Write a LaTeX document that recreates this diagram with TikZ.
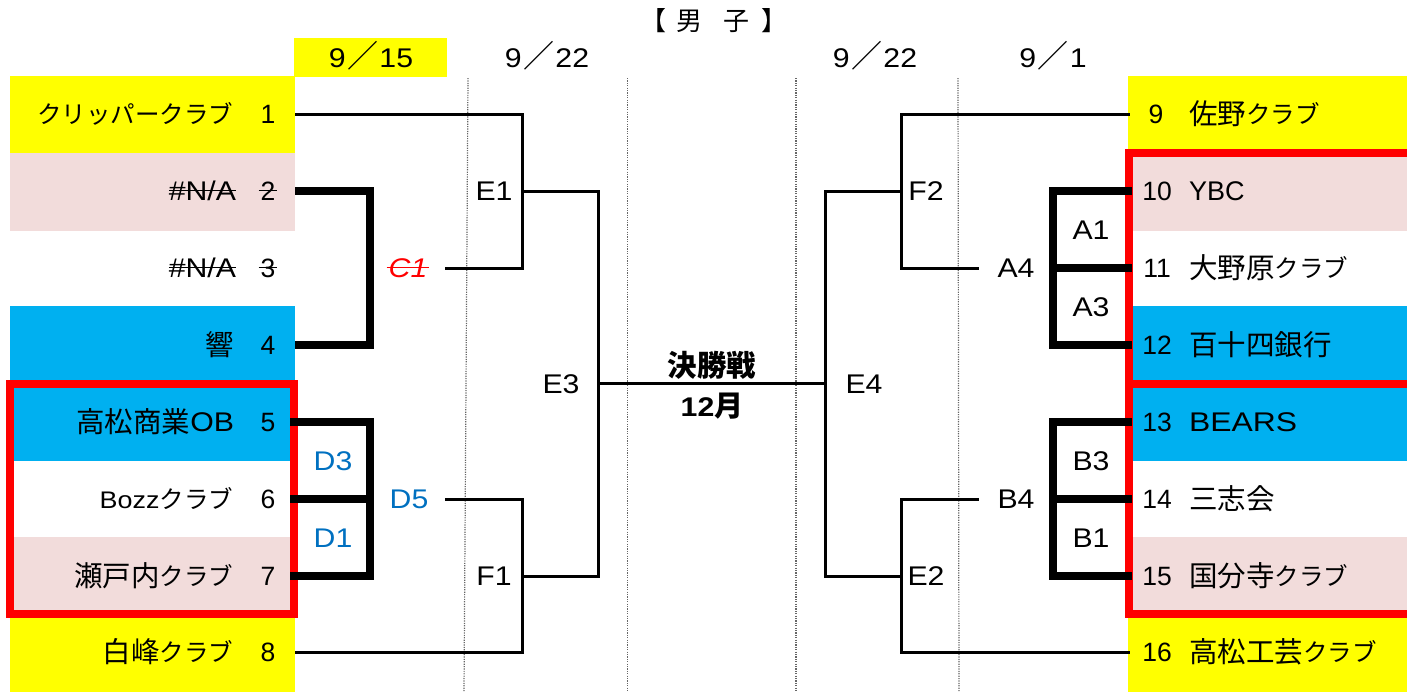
\documentclass[tikz,border=0pt]{standalone}
\usepackage{fontspec}
\setmainfont[FakeStretch=1.12]{Liberation Sans}
\newfontfamily\plainlat{Liberation Sans}
\newfontfamily\widelat[FakeStretch=1.18]{Liberation Sans}
\newfontfamily\jp{Noto Sans CJK JP}
\definecolor{bYellow}{HTML}{FFFF00}
\definecolor{bPink}{HTML}{F2DCDB}
\definecolor{bBlue}{HTML}{00B0F0}
\definecolor{dBlue}{HTML}{0070C0}
\newcommand{\kj}[1]{\raisebox{-1pt}{\fontsize{28.5}{28.5}\selectfont #1}}
\newcommand{\lat}[1]{{\rmfamily\fontsize{27}{27}\selectfont #1}}
\newcommand{\dateslash}{\hspace{.05em}{\jp\fontsize{31}{31}\selectfont ／}\hspace{.05em}}
\tikzset{
 band/.style={inner sep=0pt,outer sep=0pt,anchor=north west,text width=0pt},
 txt/.style={inner sep=0pt,outer sep=0pt,anchor=base,font=\fontsize{27}{27}\selectfont},
 lname/.style={inner sep=0pt,outer sep=0pt,anchor=base east,font=\jp\fontsize{24.5}{25}\selectfont},
 rname/.style={inner sep=0pt,outer sep=0pt,anchor=base west,font=\jp\fontsize{24.5}{25}\selectfont},
 num/.style={inner sep=0pt,outer sep=0pt,anchor=base,font=\plainlat\fontsize{26.5}{26.5}\selectfont},
 thinline/.style={line width=3pt,line cap=rect,line join=miter},
 thickline/.style={line width=8pt,line cap=butt,line join=miter},
 redbox/.style={draw=red,line width=8pt,line join=miter},
 sep/.style={draw=black!60,line width=1.2pt,dash pattern=on 1.2pt off 1.2pt},
 strike/.style={line width=1pt}
}
\newcommand{\bandbox}[5]{\node[band,fill=#5,minimum width=#3,minimum height=#4] (#1) at #2 {};}
\begin{document}
\begin{tikzpicture}[x=1pt,y=-1pt]
\useasboundingbox (0,0) rectangle (1407,694);
% bands
\bandbox{bL1}{(10,76)}{285pt}{77pt}{bYellow}
\bandbox{bL2}{(10,153)}{285pt}{78pt}{bPink}
\bandbox{bL4}{(10,306)}{285pt}{78pt}{bBlue}
\bandbox{bL5}{(10,384)}{285pt}{77pt}{bBlue}
\bandbox{bL7}{(10,537)}{285pt}{78pt}{bPink}
\bandbox{bL8}{(10,615)}{285pt}{77pt}{bYellow}
\bandbox{bR1}{(1128,76)}{279pt}{77pt}{bYellow}
\bandbox{bR2}{(1128,153)}{279pt}{78pt}{bPink}
\bandbox{bR4}{(1128,306)}{279pt}{78pt}{bBlue}
\bandbox{bR5}{(1128,384)}{279pt}{77pt}{bBlue}
\bandbox{bR7}{(1128,537)}{279pt}{78pt}{bPink}
\bandbox{bR8}{(1128,615)}{279pt}{77pt}{bYellow}
\bandbox{bDate}{(294,38)}{153pt}{39pt}{bYellow}
% column separators
\coordinate (s1a) at (468,78); \coordinate (s1b) at (464,692);
\coordinate (s2a) at (627.5,78); \coordinate (s2b) at (627.5,692);
\coordinate (s3a) at (796,78); \coordinate (s3b) at (796,692);
\coordinate (s4a) at (958,78); \coordinate (s4b) at (959,692);
\draw[sep] (s1a) -- (s1b);
\draw[sep] (s2a) -- (s2b);
\draw[sep] (s3a) -- (s3b);
\draw[sep] (s4a) -- (s4b);
% red frames
\coordinate (rL1) at (10,384); \coordinate (rL2) at (294,614);
\coordinate (rR1) at (1129,153); \coordinate (rR2) at (1407,153);
\coordinate (rR3) at (1129,614); \coordinate (rR4) at (1407,614);
\coordinate (rR5) at (1129,384); \coordinate (rR6) at (1407,384);
\draw[redbox] (rL1) rectangle (rL2);
\draw[redbox] (rR2) -- (rR1) -- (rR3) -- (rR4);
\draw[redbox] (rR5) -- (rR6);
% labels
\node[txt,font=\jp\fontsize{26}{26}\selectfont] (title) at (714,30) {【\hspace{.38em}男\hspace{.8em}子\hspace{.45em}】};
\node[txt] (d1) at (371,67) {9\dateslash 15};
\node[txt] (d2) at (547,67) {9\dateslash 22};
\node[txt] (d3) at (875,67) {9\dateslash 22};
\node[txt] (d4) at (1053,67) {9\dateslash 1};
% left team names
\node[lname] (n1) at (233,123) {クリッパークラブ};
\node[lname] (n2) at (236,200) {\lat{\#N/A}};
\node[lname] (n3) at (236,277) {\lat{\#N/A}};
\node[lname] (n4) at (234,354) {\kj{響}};
\node[lname] (n5) at (234,431) {\kj{高松商業}\lat{OB}};
\node[lname] (n6) at (233,508) {{\rmfamily\fontsize{24}{25}\selectfont Bozz}クラブ};
\node[lname] (n7) at (233,585) {\kj{瀬戸内}クラブ};
\node[lname] (n8) at (233,661) {\kj{白峰}クラブ};
\node[num] (k1) at (268,123) {1};
\node[num] (k2) at (268,200) {2};
\node[num] (k3) at (268,277) {3};
\node[num] (k4) at (268,354) {4};
\node[num] (k5) at (268,431) {5};
\node[num] (k6) at (268,508) {6};
\node[num] (k7) at (268,585) {7};
\node[num] (k8) at (268,661) {8};
\draw[strike] (n2.west |- k2.center) -- (n2.east |- k2.center);
\draw[strike] (n3.west |- k3.center) -- (n3.east |- k3.center);
\path (k2.west) ++(-2,0) coordinate (ks2a) (k2.east) ++(2,0) coordinate (ks2b);
\draw[strike] (ks2a) -- (ks2b);
\path (k3.west) ++(-2,0) coordinate (ks3a) (k3.east) ++(2,0) coordinate (ks3b);
\draw[strike] (ks3a) -- (ks3b);
% right team names
\node[num] (k9) at (1156,123) {9};
\node[num] (k10) at (1157,200) {10};
\node[num] (k11) at (1157,277) {11};
\node[num] (k12) at (1157,354) {12};
\node[num] (k13) at (1157,431) {13};
\node[num] (k14) at (1157,508) {14};
\node[num] (k15) at (1157,585) {15};
\node[num] (k16) at (1157,661) {16};
\node[rname] (n9) at (1189,123) {\kj{佐野}クラブ};
\node[rname] (n10) at (1189,200) {{\plainlat\fontsize{27}{27}\selectfont YBC}};
\node[rname] (n11) at (1189,277) {\kj{大野原}クラブ};
\node[rname] (n12) at (1189,354) {\kj{百十四銀行}};
\node[rname] (n13) at (1189,431) {{\widelat\fontsize{27}{27}\selectfont BEARS}};
\node[rname] (n14) at (1189,508) {\kj{三志会}};
\node[rname] (n15) at (1189,585) {\kj{国分寺}クラブ};
\node[rname] (n16) at (1189,661) {\kj{高松工芸}クラブ};
% match labels
\node[txt,text=red] (C1) at (408,277) {\itshape C1};
\path (C1.west) ++(-2,0) coordinate (c1a) (C1.east) ++(2,0) coordinate (c1b);
\draw[strike,red] (c1a) -- (c1b);
\node[txt,text=dBlue] (D3) at (333,470) {D3};
\node[txt,text=dBlue] (D1) at (333,547) {D1};
\node[txt,text=dBlue] (D5) at (409,508) {D5};
\node[txt] (E1) at (494,200) {E1};
\node[txt] (F1) at (494,585) {F1};
\node[txt] (E3) at (561,393) {E3};
\node[txt] (E4) at (864,393) {E4};
\node[txt] (F2) at (926,200) {F2};
\node[txt] (E2) at (926,585) {E2};
\node[txt] (A4) at (1016,277) {A4};
\node[txt] (B4) at (1016,508) {B4};
\node[txt] (A1) at (1091,239) {A1};
\node[txt] (A3) at (1091,316) {A3};
\node[txt] (B3) at (1091,470) {B3};
\node[txt] (B1) at (1091,547) {B1};
\node[txt,font=\jp\bfseries\fontsize{29.5}{30}\selectfont] (final) at (712,376) {決勝戦};
\node[txt,font=\bfseries\fontsize{27}{27}\selectfont] (month) at (712,416) {12{\jp\bfseries\fontsize{29}{29}\selectfont 月}};
% ports
\coordinate (L1) at (296,114); \coordinate (L2) at (295,191); \coordinate (L4) at (295,345);
\coordinate (L5) at (290,422); \coordinate (L6) at (290,499); \coordinate (L7) at (290,576);
\coordinate (L8) at (296,652);
\coordinate (R9) at (1128,114); \coordinate (R10) at (1132,191); \coordinate (R11) at (1132,268);
\coordinate (R12) at (1132,345); \coordinate (R13) at (1132,422); \coordinate (R14) at (1132,499);
\coordinate (R15) at (1132,576); \coordinate (R16) at (1128,652);
\coordinate (xL1) at (370,0); \coordinate (xR1) at (1053,0);
\coordinate (x1) at (522,0); \coordinate (x2) at (598,0); \coordinate (x3) at (825,0); \coordinate (x4) at (901,0);
\coordinate (yFinal) at (0,383.5);
\coordinate (yE1) at (0,191); \coordinate (yF1) at (0,576);
\coordinate (stC1) at (446,268); \coordinate (stD5) at (446,499);
\coordinate (stA4) at (977,268); \coordinate (stB4) at (977,499);
% thick brackets
\draw[thickline] (L2) -| (xL1 |- L4) -- (L4);
\draw[thickline] (L5) -| (xL1 |- L7) -- (L7);
\draw[thickline] (L6) -- (xL1 |- L6);
\draw[thickline] (R10) -- (xR1 |- R10) -- (xR1 |- R12) -- (R12);
\draw[thickline] (R11) -- (xR1 |- R11);
\draw[thickline] (R13) -- (xR1 |- R13) -- (xR1 |- R15) -- (R15);
\draw[thickline] (R14) -- (xR1 |- R14);
% thin brackets
\draw[thinline] (L1) -- (x1 |- L1) -- (x1 |- stC1) -- (stC1);
\draw[thinline] (L8) -- (x1 |- L8) -- (x1 |- stD5) -- (stD5);
\draw[thinline] (x1 |- yE1) -- (x2 |- yE1) -- (x2 |- yF1) -- (x1 |- yF1);
\draw[thinline] (x2 |- yFinal) -- (x3 |- yFinal);
\draw[thinline] (x4 |- yE1) -- (x3 |- yE1) -- (x3 |- yF1) -- (x4 |- yF1);
\draw[thinline] (R9) -- (x4 |- R9) -- (x4 |- stA4) -- (stA4);
\draw[thinline] (R16) -- (x4 |- R16) -- (x4 |- stB4) -- (stB4);
\end{tikzpicture}
\end{document}
